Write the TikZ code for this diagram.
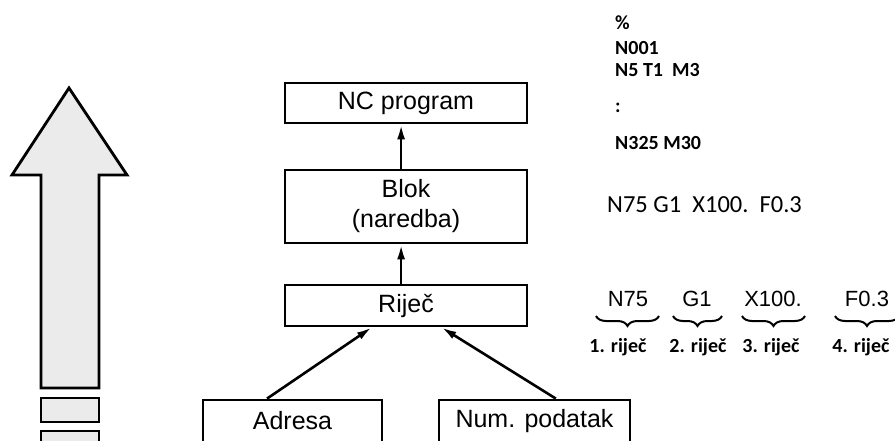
\documentclass[tikz,border=0pt]{standalone}
\usepackage{fontspec}
\setmainfont{Liberation Sans}
\newfontfamily\calibri{Carlito}
\usetikzlibrary{arrows.meta, calc, decorations.pathreplacing}

\tikzset{
  box/.style={draw, line width=2.8pt, inner sep=0pt, align=center,
    font=\fontsize{25}{30}\selectfont},
  link/.style={line width=2.6pt, -{Latex[length=15pt, width=8pt]}},
  brace/.style={line width=2pt, decorate,
    decoration={brace, amplitude=10pt}},
  listing/.style={anchor=base west, inner sep=0pt,
    font=\calibri\bfseries\fontsize{20}{22}\selectfont},
  word/.style={anchor=base, inner sep=0pt, font=\fontsize{22}{26}\selectfont},
  wordlabel/.style={anchor=base, inner sep=0pt,
    font=\calibri\bfseries\fontsize{20}{22}\selectfont}
}

\begin{document}
\begin{tikzpicture}[x=1pt, y=-1pt]
            \clip (0,0) rectangle (895,441);

            % big arrow
            \filldraw[fill=black!8, draw=black, line width=2.8pt, line join=miter]
                (69,88) -- (127,175) -- (99,175) -- (99,388) -- (41,388) -- (41,175) -- (12,175) -- cycle;
            \filldraw[fill=black!8, draw=black, line width=2.8pt] (41,398) rectangle (99,422);
            \filldraw[fill=black!8, draw=black, line width=2.8pt] (41,431) rectangle (99,470);

            % hierarchy
            \node[box, minimum width=242pt, minimum height=40pt] (nc) at (406,103) {NC program};
            \node[box, minimum width=242pt, minimum height=73pt] (blok) at (406,206.5) {Blok\\(naredba)};
            \node[box, minimum width=242pt, minimum height=41pt] (rijec) at (406,305.5) {Riječ};
            \node[box, minimum width=179pt, minimum height=42pt] (adresa) at (292.5,421) {Adresa};
            \node[box, minimum width=191pt, minimum height=42pt] (podatak) at (534.5,421) {Num. podatak};

            \draw[link] ($(blok.north west)!0.48!(blok.north east)$) -- ($(nc.south west)!0.48!(nc.south east)$);
            \draw[link] ($(rijec.north west)!0.48!(rijec.north east)$) -- ($(blok.south west)!0.48!(blok.south east)$);
            \draw[link] ($(adresa.north west)!0.36!(adresa.north east)$) -- ($(rijec.south west)!0.36!(rijec.south east)$);
            \draw[link] ($(podatak.north west)!0.61!(podatak.north east)$) -- ($(rijec.south west)!0.645!(rijec.south east)$);

            % program text
            \node[listing] (l1) at (615,30) {\%};
            \node[listing] (l2) at (615,55) {N001};
            \node[listing] (l3) at (615,77) {N5 T1\ \ M3};
            \node[listing] (l4) at (615,113) {:};
            \node[listing] (l5) at (615,150) {N325 M30};

            \node[anchor=base west, inner sep=0pt, font=\calibri\fontsize{24.5}{28}\selectfont] (blokline) at (607,212)
                {N75 G1\ \ X100.\ \ F0.3};

            % words
            \node[word] (n75) at (628,306) {N75};
            \node[word] (g1) at (697,306) {G1};
            \node[word] (x100) at (773,306) {X100.};
            \node[word] (f03) at (867,306) {F0.3};

            \draw[brace] (659,316) -- (596,316);
            \draw[brace] (722,316) -- (673,316);
            \draw[brace] (805,316) -- (742,316);
            \draw[brace] (899,316) -- (835,316);

            \node[wordlabel] (w1) at (618,352) {1. riječ};
            \node[wordlabel] (w2) at (698,352) {2. riječ};
            \node[wordlabel] (w3) at (771,352) {3. riječ};
            \node[wordlabel] (w4) at (861,352) {4. riječ};
        \end{tikzpicture}
\end{document}
